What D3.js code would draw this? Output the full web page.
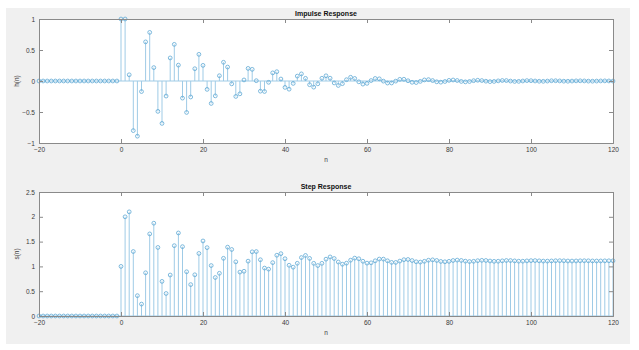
<!DOCTYPE html>
<html><head><meta charset="utf-8">
<script src="https://cdn.jsdelivr.net/npm/d3@7"></script>
<style>body{margin:0;background:#fff}svg{display:block}</style>
</head><body>
<script>
const nStart = -20, nEnd = 120;
const xTicks = [-20, 0, 20, 40, 60, 80, 100, 120];
const hTicks = [-1, -0.5, 0, 0.5, 1];
const sTicks = [0, 0.5, 1, 1.5, 2, 2.5];
// impulse response h(n) for n = 0..120 (zero for n < 0)
const hVals = [1, 1, 0.1, -0.8, -0.89, -0.17, 0.631, 0.784, 0.216, -0.49,
 -0.684, -0.243, 0.372, 0.591, 0.256, -0.276, -0.507, -0.258, 0.198, 0.43,
 0.252, -0.135, -0.362, -0.24, 0.085, 0.302, 0.225, -0.046, -0.249, -0.207,
 0.017, 0.203, 0.188, 0.005, -0.164, -0.169, -0.021, 0.131, 0.15, 0.032,
 -0.103, -0.132, -0.039, 0.079, 0.115, 0.043, -0.06, -0.099, -0.045, 0.044,
 0.084, 0.045, -0.031, -0.072, -0.043, 0.021, 0.06, 0.041, -0.013, -0.05,
 -0.038, 0.007, 0.041, 0.035, -0.002, -0.033, -0.032, -0.002, 0.027, 0.028,
 0.004, -0.021, -0.025, -0.006, 0.017, 0.022, 0.007, -0.013, -0.019, -0.008,
 0.01, 0.016, 0.008, -0.007, -0.014, -0.008, 0.005, 0.012, 0.007, -0.003,
 -0.01, -0.007, 0.002, 0.008, 0.007, -0.001, -0.007, -0.006, 0, 0.006,
 0.005, 0, -0.004, -0.005, -0.001, 0.004, 0.004, 0.001, -0.003, -0.004,
 -0.001, 0.002, 0.003, 0.001, -0.002, -0.003, -0.001, 0.001, 0.002, 0.001,
 -0.001];
// step response s(n) for n = 0..120 (zero for n < 0)
const sVals = [1, 2, 2.1, 1.3, 0.41, 0.24, 0.871, 1.655, 1.871, 1.382,
 0.698, 0.454, 0.826, 1.418, 1.674, 1.398, 0.892, 0.633, 0.831, 1.261,
 1.513, 1.378, 1.017, 0.776, 0.861, 1.163, 1.388, 1.341, 1.092, 0.885,
 0.902, 1.106, 1.294, 1.299, 1.134, 0.966, 0.945, 1.076, 1.225, 1.257,
 1.155, 1.023, 0.984, 1.063, 1.178, 1.221, 1.161, 1.062, 1.017, 1.062,
 1.146, 1.191, 1.159, 1.088, 1.044, 1.065, 1.125, 1.167, 1.154, 1.104,
 1.066, 1.072, 1.113, 1.148, 1.147, 1.113, 1.081, 1.08, 1.107, 1.135,
 1.139, 1.118, 1.093, 1.087, 1.103, 1.125, 1.132, 1.12, 1.1, 1.093,
 1.102, 1.119, 1.127, 1.12, 1.106, 1.098, 1.103, 1.115, 1.122, 1.119,
 1.109, 1.102, 1.104, 1.112, 1.119, 1.118, 1.111, 1.105, 1.105, 1.111,
 1.116, 1.117, 1.112, 1.107, 1.107, 1.11, 1.114, 1.115, 1.113, 1.109,
 1.108, 1.11, 1.113, 1.114, 1.113, 1.11, 1.109, 1.11, 1.112, 1.113,
 1.113];

const W = 639, H = 350;
const svg = d3.select("body").append("svg").attr("width", W).attr("height", H);
svg.append("rect").attr("x", 6).attr("y", 8).attr("width", 624).attr("height", 336).attr("fill", "#f0f0f0");

const font = "Arial, 'Liberation Sans', sans-serif";
const stemColor = "#9fcbe6", markColor = "#5ea8d4";

function panel(top, bottom, yDomain, yTicks, vals, title, ylab) {
  const x = d3.scaleLinear().domain([nStart, nEnd]).range([39, 613]);
  const y = d3.scaleLinear().domain(yDomain).range([bottom, top]);
  const g = svg.append("g");
  g.append("rect").attr("x", 39).attr("y", top).attr("width", 574).attr("height", bottom - top).attr("fill", "#fff");
  const data = d3.range(nStart, nEnd + 1).map(n => ({n, v: n < 0 ? 0 : vals[n]}));
  const base = y(0);
  g.selectAll("line.stem").data(data.filter(d => d.n >= 0)).join("line").attr("class", "stem")
    .attr("x1", d => x(d.n)).attr("x2", d => x(d.n)).attr("y1", base).attr("y2", d => y(d.v))
    .attr("stroke", stemColor).attr("stroke-width", 1);
  g.append("line").attr("x1", x(nStart)).attr("x2", x(nEnd)).attr("y1", base).attr("y2", base)
    .attr("stroke", stemColor).attr("stroke-width", 1);
  g.selectAll("circle").data(data).join("circle")
    .attr("cx", d => x(d.n)).attr("cy", d => y(d.v)).attr("r", 1.9)
    .attr("fill", "none").attr("stroke", markColor).attr("stroke-width", 0.8);
  // axes
  const ax = g.append("g").attr("transform", `translate(0,${bottom})`)
    .call(d3.axisBottom(x).tickValues(xTicks).tickSize(-4).tickPadding(4).tickFormat(d3.format("d")));
  const axT = g.append("g").attr("transform", `translate(0,${top})`)
    .call(d3.axisTop(x).tickValues(xTicks).tickSize(-4).tickFormat(""));
  const ay = g.append("g").attr("transform", `translate(39,0)`)
    .call(d3.axisLeft(y).tickValues(yTicks).tickSize(-4).tickPadding(4).tickFormat(d => d3.format("")(d)));
  const ayR = g.append("g").attr("transform", `translate(613,0)`)
    .call(d3.axisRight(y).tickValues(yTicks).tickSize(-4).tickFormat(""));
  [ax, axT, ay, ayR].forEach(a => {
    a.select(".domain").attr("stroke", "#8a8a8a").attr("stroke-width", 1);
    a.selectAll(".tick line").attr("stroke", "#8a8a8a");
    a.selectAll("text").attr("font-family", font).attr("font-size", 6.5).attr("fill", "#3a3a3a");
  });
  g.append("text").attr("x", 326).attr("y", top - 3).attr("text-anchor", "middle")
    .attr("font-family", font).attr("font-size", 7).attr("font-weight", "bold").attr("fill", "#111").text(title);
  g.append("text").attr("x", 326).attr("y", bottom + 19).attr("text-anchor", "middle")
    .attr("font-family", font).attr("font-size", 6.5).attr("fill", "#3a3a3a").text("n");
  g.append("text").attr("transform", `translate(19,${(top + bottom) / 2}) rotate(-90)`).attr("text-anchor", "middle")
    .attr("font-family", font).attr("font-size", 6.5).attr("fill", "#3a3a3a").text(ylab);
}

panel(19, 143, [-1, 1], hTicks, hVals, "Impulse Response", "h(n)");
panel(192, 316, [0, 2.5], sTicks, sVals, "Step Response", "s(n)");
</script>
</body></html>
